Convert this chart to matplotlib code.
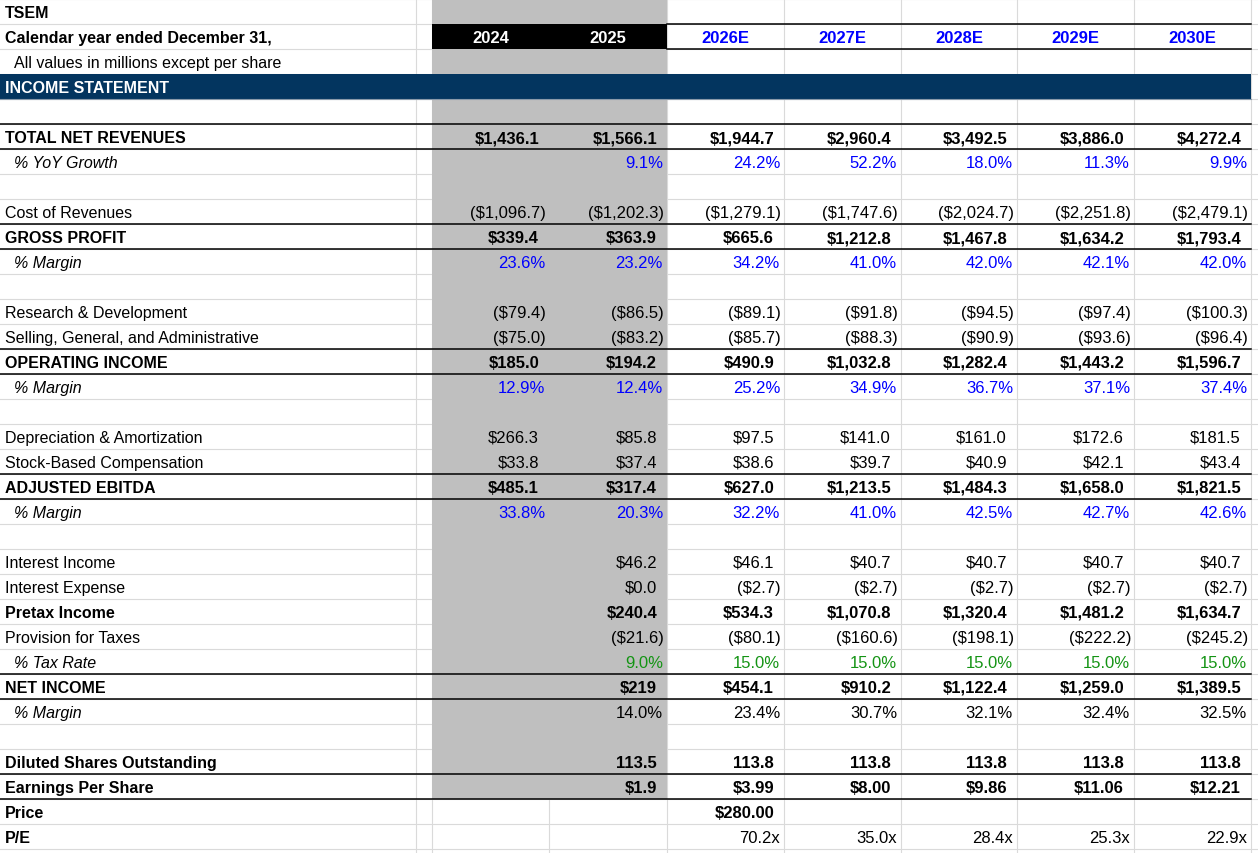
import matplotlib
matplotlib.use('Agg')
import matplotlib.pyplot as plt
from matplotlib.patches import Rectangle

# ---- data ----
company = 'TSEM'
years = ['2024', '2025', '2026E', '2027E', '2028E', '2029E', '2030E']

revenue = [1436.1, 1566.1, 1944.7, 2960.4, 3492.5, 3886.0, 4272.4]
yoy_growth = [None, 9.1, 24.2, 52.2, 18.0, 11.3, 9.9]
cost_of_rev = [-1096.7, -1202.3, -1279.1, -1747.6, -2024.7, -2251.8, -2479.1]
gross_profit = [339.4, 363.9, 665.6, 1212.8, 1467.8, 1634.2, 1793.4]
gross_margin = [23.6, 23.2, 34.2, 41.0, 42.0, 42.1, 42.0]
rnd = [-79.4, -86.5, -89.1, -91.8, -94.5, -97.4, -100.3]
sga = [-75.0, -83.2, -85.7, -88.3, -90.9, -93.6, -96.4]
op_income = [185.0, 194.2, 490.9, 1032.8, 1282.4, 1443.2, 1596.7]
op_margin = [12.9, 12.4, 25.2, 34.9, 36.7, 37.1, 37.4]
dep_amort = [266.3, 85.8, 97.5, 141.0, 161.0, 172.6, 181.5]
sbc = [33.8, 37.4, 38.6, 39.7, 40.9, 42.1, 43.4]
adj_ebitda = [485.1, 317.4, 627.0, 1213.5, 1484.3, 1658.0, 1821.5]
ebitda_margin = [33.8, 20.3, 32.2, 41.0, 42.5, 42.7, 42.6]
int_income = [None, 46.2, 46.1, 40.7, 40.7, 40.7, 40.7]
int_expense = [None, 0.0, -2.7, -2.7, -2.7, -2.7, -2.7]
pretax = [None, 240.4, 534.3, 1070.8, 1320.4, 1481.2, 1634.7]
taxes = [None, -21.6, -80.1, -160.6, -198.1, -222.2, -245.2]
tax_rate = [None, 9.0, 15.0, 15.0, 15.0, 15.0, 15.0]
net_income = [None, 219, 454.1, 910.2, 1122.4, 1259.0, 1389.5]
net_income_dec = [1, 0, 1, 1, 1, 1, 1]
net_margin = [None, 14.0, 23.4, 30.7, 32.1, 32.4, 32.5]
diluted_shares = [None, 113.5, 113.8, 113.8, 113.8, 113.8, 113.8]
eps = [None, 1.9, 3.99, 8.00, 9.86, 11.06, 12.21]
eps_dec = [1, 1, 2, 2, 2, 2, 2]
price = [None, None, 280.00, None, None, None, None]
pe_ratio = [None, None, 70.2, 35.0, 28.4, 25.3, 22.9]

plt.rcParams['font.family'] = ['Liberation Sans', 'DejaVu Sans']
FS_LABEL = 11.5
FS_VALUE = 12

BLUE = '#0000ff'
GREEN = '#149414'
NAVY = '#03355f'
GRAY = '#bfbfbf'
GRID = '#dadada'

# row layout: (label, values, kind, decimals, bold, italic, value colour, indent)
rows = [
    (company, None, None, 1, True, False, 'black', False),
    ('Calendar year ended December 31,', None, None, 1, True, False, 'black', False),
    ('All values in millions except per share', None, None, 1, False, False, 'black', True),
    ('INCOME STATEMENT', None, None, 1, True, False, 'black', False),
    ('', None, None, 1, False, False, 'black', False),
    ('TOTAL NET REVENUES', revenue, 'usd', 1, True, False, 'black', False),
    ('% YoY Growth', yoy_growth, 'pct', 1, False, True, BLUE, True),
    ('', None, None, 1, False, False, 'black', False),
    ('Cost of Revenues', cost_of_rev, 'usd', 1, False, False, 'black', False),
    ('GROSS PROFIT', gross_profit, 'usd', 1, True, False, 'black', False),
    ('% Margin', gross_margin, 'pct', 1, False, True, BLUE, True),
    ('', None, None, 1, False, False, 'black', False),
    ('Research & Development', rnd, 'usd', 1, False, False, 'black', False),
    ('Selling, General, and Administrative', sga, 'usd', 1, False, False, 'black', False),
    ('OPERATING INCOME', op_income, 'usd', 1, True, False, 'black', False),
    ('% Margin', op_margin, 'pct', 1, False, True, BLUE, True),
    ('', None, None, 1, False, False, 'black', False),
    ('Depreciation & Amortization', dep_amort, 'usd', 1, False, False, 'black', False),
    ('Stock-Based Compensation', sbc, 'usd', 1, False, False, 'black', False),
    ('ADJUSTED EBITDA', adj_ebitda, 'usd', 1, True, False, 'black', False),
    ('% Margin', ebitda_margin, 'pct', 1, False, True, BLUE, True),
    ('', None, None, 1, False, False, 'black', False),
    ('Interest Income', int_income, 'usd', 1, False, False, 'black', False),
    ('Interest Expense', int_expense, 'usd', 1, False, False, 'black', False),
    ('Pretax Income', pretax, 'usd', 1, True, False, 'black', False),
    ('Provision for Taxes', taxes, 'usd', 1, False, False, 'black', False),
    ('% Tax Rate', tax_rate, 'pct', 1, False, True, GREEN, True),
    ('NET INCOME', net_income, 'usd', net_income_dec, True, False, 'black', False),
    ('% Margin', net_margin, 'pct', 1, False, True, 'black', True),
    ('', None, None, 1, False, False, 'black', False),
    ('Diluted Shares Outstanding', diluted_shares, 'num', 1, True, False, 'black', False),
    ('Earnings Per Share', eps, 'usd', eps_dec, True, False, 'black', False),
    ('Price', price, 'usd', 2, True, False, 'black', False),
    ('P/E', pe_ratio, 'mult', 1, True, False, 'black', False),
]
total_rows = {'TOTAL NET REVENUES', 'GROSS PROFIT', 'OPERATING INCOME',
              'ADJUSTED EBITDA', 'NET INCOME', 'Earnings Per Share'}

# ---- geometry (pixel space) ----
W, H = 1258, 854
RH = 25
col_edges = [432, 549, 667, 784, 901, 1017, 1134, 1251]
grid_x = [416] + col_edges

fig = plt.figure(figsize=(W / 100, H / 100), dpi=100)
ax = fig.add_axes([0, 0, 1, 1])
ax.set_xlim(0, W)
ax.set_ylim(H, 0)
ax.axis('off')

n = len(rows)
# grid
for i in range(n + 1):
    ax.plot([0, W], [i * RH, i * RH], color=GRID, lw=0.8, zorder=1)
for x in grid_x:
    ax.plot([x, x], [0, H], color=GRID, lw=0.8, zorder=1)

# gray historical columns (down to EPS row)
eps_row = [r[0] for r in rows].index('Earnings Per Share')
ax.add_patch(Rectangle((col_edges[0], 0), col_edges[2] - col_edges[0], (eps_row + 1) * RH,
                       facecolor=GRAY, edgecolor='none', zorder=2))
# black header cells
ax.add_patch(Rectangle((col_edges[0], RH), col_edges[2] - col_edges[0], RH,
                       facecolor='black', edgecolor='none', zorder=2.5))
# navy band
ax.add_patch(Rectangle((0, 3 * RH), col_edges[-1], RH, facecolor=NAVY, edgecolor='none', zorder=2.5))
ax.plot([0, col_edges[-1]], [4 * RH, 4 * RH], color='#8a9aaa', lw=0.8, zorder=2.6)
# header borders for estimates
for y in (RH, 2 * RH):
    ax.plot([col_edges[2], col_edges[-1]], [y, y], color='black', lw=1.1, zorder=3)

# year headers
for j, yr in enumerate(years):
    xc = (col_edges[j] + col_edges[j + 1]) / 2
    ax.text(xc, 1.5 * RH + 1, yr, ha='center', va='center', fontsize=FS_VALUE, fontweight='bold',
            color='white' if j < 2 else BLUE, zorder=4)


def fmt(v, kind, dec):
    if kind == 'usd':
        s = f"${abs(v):,.{dec}f}"
        return f"({s})" if v < 0 else s
    if kind == 'pct':
        return f"{v:.{dec}f}%"
    if kind == 'mult':
        return f"{v:.{dec}f}x"
    return f"{v:,.{dec}f}"


for i, (label, vals, kind, dec, bold, italic, color, indent) in enumerate(rows):
    yc = i * RH + RH / 2 + 1
    ax.text(14 if indent else 5, yc, label, ha='left', va='center', fontsize=FS_LABEL,
            fontweight='bold' if bold else 'normal', fontstyle='italic' if italic else 'normal',
            color='white' if label == 'INCOME STATEMENT' else 'black', zorder=4)
    if label in total_rows:
        for y in (i * RH, (i + 1) * RH):
            ax.plot([0, col_edges[-1]], [y, y], color='black', lw=1.1, zorder=3)
    if vals is None:
        continue
    for j, v in enumerate(vals):
        if v is None:
            continue
        d = dec[j] if isinstance(dec, list) else dec
        s = fmt(v, kind, d)
        if kind == 'usd' and v < 0:
            pad = 3
        elif kind in ('pct', 'mult'):
            pad = 4
        else:
            pad = 10
        ax.text(col_edges[j + 1] - pad, yc, s, ha='right', va='center', fontsize=FS_VALUE,
                fontweight='bold' if (bold and kind != 'mult') else 'normal',
                color=color, zorder=4)

fig.savefig('out.png', dpi=100)
